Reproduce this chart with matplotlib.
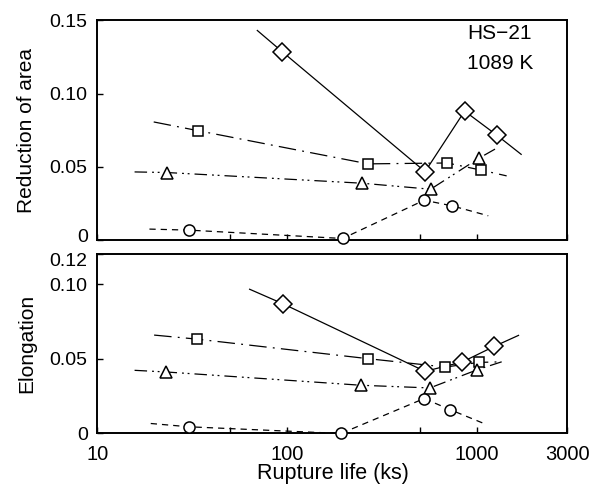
import matplotlib
matplotlib.use('Agg')
import matplotlib.pyplot as plt
from matplotlib.ticker import FixedLocator, NullLocator, FixedFormatter
from matplotlib.transforms import ScaledTranslation

plt.rcParams['font.family'] = ['Liberation Sans', 'DejaVu Sans']

# reduction of area (top panel): marker points and line ends
ra_dia_x = [94.4, 533, 861, 1275]
ra_dia_y = [0.1284, 0.0467, 0.088, 0.0715]
ra_dia_ends = [(69.6, 0.143), (1710, 0.0585)]

ra_sq_x = [33.7, 267, 698, 1055]
ra_sq_y = [0.0747, 0.052, 0.0526, 0.0477]
ra_sq_ends = [(19.8, 0.0806), (1434, 0.0438)]

ra_tri_x = [23.2, 248, 570, 1023]
ra_tri_y = [0.0461, 0.0388, 0.0347, 0.0558]
ra_tri_ends = [(15.7, 0.0465), (1286, 0.0631)]

ra_circ_x = [30.4, 196, 527, 738]
ra_circ_y = [0.0068, 0.0011, 0.0272, 0.0234]
ra_circ_ends = [(18.8, 0.0075), (1147, 0.0166)]

# elongation (bottom panel)
el_dia_x = [95.2, 533, 837, 1232]
el_dia_y = [0.0868, 0.0416, 0.0479, 0.0583]
el_dia_ends = [(63.4, 0.0966), (1656, 0.0657)]

el_sq_x = [33.4, 267, 682, 1023]
el_sq_y = [0.0632, 0.0501, 0.0445, 0.0476]
el_sq_ends = [(19.9, 0.0659), (1350, 0.048)]

el_tri_x = [23, 245, 565, 1005]
el_tri_y = [0.0412, 0.0323, 0.0305, 0.0427]
el_tri_ends = [(15.7, 0.0423), (1350, 0.048)]

el_circ_x = [30.3, 192, 527, 721]
el_circ_y = [0.0045, 0.0, 0.0234, 0.016]
el_circ_ends = [(19.1, 0.0067), (1088, 0.0067)]

x_ticks = [10, 50, 100, 500, 1000, 3000]
x_labels = ['10', '', '100', '', '1000', '3000']

styles = {
    'dia': dict(marker='D', ms=9, ls='-', dashes=None),
    'sq': dict(marker='s', ms=7.5, ls='--', dashes=[14, 5, 1.5, 5]),
    'tri': dict(marker='^', ms=8, ls='--', dashes=[10, 4, 1.5, 3, 1.5, 4]),
    'circ': dict(marker='o', ms=8, ls='--', dashes=[5, 4]),
}


def draw(ax, xs, ys, ends, st):
    lx = [ends[0][0]] + xs + [ends[1][0]]
    ly = [ends[0][1]] + ys + [ends[1][1]]
    line, = ax.plot(lx, ly, color='black', lw=0.9, ls=st['ls'], zorder=2, clip_on=False)
    if st['dashes'] is not None:
        line.set_dashes(st['dashes'])
    ax.plot(xs, ys, ls='none', marker=st['marker'], ms=st['ms'], mfc='white',
            mec='black', mew=1.1, zorder=3, clip_on=False)


fig = plt.figure(figsize=(6.05, 4.93), dpi=100)
ax1 = fig.add_axes([0.161, 0.513, 0.777, 0.446])
ax2 = fig.add_axes([0.161, 0.1207, 0.777, 0.3635])

draw(ax1, ra_dia_x, ra_dia_y, ra_dia_ends, styles['dia'])
draw(ax1, ra_sq_x, ra_sq_y, ra_sq_ends, styles['sq'])
draw(ax1, ra_tri_x, ra_tri_y, ra_tri_ends, styles['tri'])
draw(ax1, ra_circ_x, ra_circ_y, ra_circ_ends, styles['circ'])

draw(ax2, el_dia_x, el_dia_y, el_dia_ends, styles['dia'])
draw(ax2, el_sq_x, el_sq_y, el_sq_ends, styles['sq'])
draw(ax2, el_tri_x, el_tri_y, el_tri_ends, styles['tri'])
draw(ax2, el_circ_x, el_circ_y, el_circ_ends, styles['circ'])

for ax in (ax1, ax2):
    ax.set_xscale('log')
    ax.set_xlim(10, 3000)
    ax.xaxis.set_major_locator(FixedLocator(x_ticks))
    ax.xaxis.set_major_formatter(FixedFormatter(x_labels))
    ax.xaxis.set_minor_locator(NullLocator())
    ax.tick_params(direction='in', length=4, width=1, labelsize=14.5)
    ax.tick_params(axis='y', pad=7, labelsize=14)
    ax.tick_params(axis='x', pad=8)
    for s in ax.spines.values():
        s.set_linewidth(1.4)

ax1.set_ylim(0, 0.15)
ax1.set_yticks([0, 0.05, 0.10, 0.15])
ax1.set_yticklabels(['0', '0.05', '0.10', '0.15'])
ax1.tick_params(axis='x', labelbottom=False)
ax1.set_ylabel('Reduction of area', fontsize=15)
ax1.yaxis.set_label_coords(-0.131, 0.5)
ax1.text(0.787, 0.941, 'HS\u221221', transform=ax1.transAxes,
         fontsize=15, va='center', ha='left')
ax1.text(0.787, 0.805, '1089 K', transform=ax1.transAxes,
         fontsize=15, va='center', ha='left')

ax2.set_ylim(0, 0.12)
ax2.set_yticks([0, 0.05, 0.10, 0.12])
ax2.set_yticklabels(['0', '0.05', '0.10', '0.12'])
ax2.set_ylabel('Elongation', fontsize=15)
ax2.yaxis.set_label_coords(-0.131, 0.5)
ax2.set_xlabel('Rupture life (ks)', fontsize=15.5)
ax2.xaxis.set_label_coords(0.5, -0.165)

# the "0" of the top panel and "0.12" of the bottom one sit a little apart
lab0 = ax1.get_yticklabels()[0]
lab0.set_transform(lab0.get_transform() + ScaledTranslation(0, 3 / 72, fig.dpi_scale_trans))
lab12 = ax2.get_yticklabels()[-1]
lab12.set_transform(lab12.get_transform() + ScaledTranslation(0, -3.5 / 72, fig.dpi_scale_trans))

fig.savefig('out.png', dpi=100)
